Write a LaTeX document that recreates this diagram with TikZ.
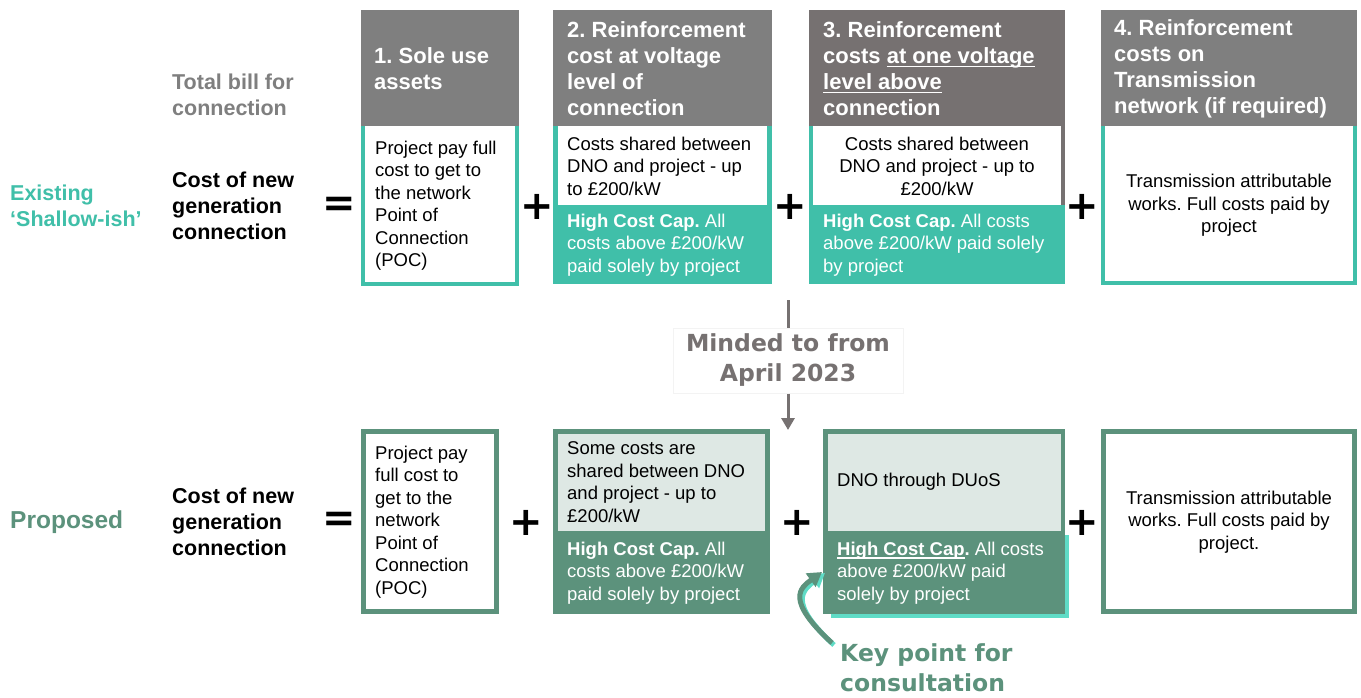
\documentclass[tikz,border=0pt]{standalone}
\usepackage{fontspec}
\setmainfont{Liberation Sans}
\newfontfamily\dvs{DejaVu Sans}
\usetikzlibrary{arrows.meta}
\frenchspacing
\definecolor{tealc}{HTML}{40BFA9}
\definecolor{grn}{HTML}{5C927C}
\definecolor{lightg}{HTML}{DEE8E4}
\definecolor{hdr}{HTML}{7F7F7F}
\definecolor{hdrB}{HTML}{767171}
\definecolor{brt}{HTML}{5FDCC6}
\definecolor{faint}{HTML}{F3F3F3}
\newcommand{\myul}[1]{\setbox0\hbox{#1}\leavevmode\rlap{\rule[-3.5pt]{\wd0}{1.6pt}}\box0}
\tikzset{
  rct/.style={rectangle, anchor=north west, inner sep=0pt, outer sep=0pt, draw=none},
  htxt/.style={font=\fontsize{22}{26}\selectfont\bfseries, text=white, align=left, inner sep=0pt, anchor=west},
  btxt/.style={font=\fontsize{18.5}{22.5}\selectfont, text=black, align=left, inner sep=0pt, anchor=west},
  wtxt/.style={btxt, text=white},
  ctxt/.style={font=\fontsize{18.5}{22.5}\selectfont, text=black, align=center, inner sep=0pt, anchor=center},
  lbl/.style={font=\fontsize{21.5}{26}\selectfont\bfseries, align=left, inner sep=0pt, anchor=west},
  op/.style={font=\fontsize{40}{40}\selectfont\dvs\bfseries, inner sep=0pt, anchor=center, text=black},
  big/.style={font=\fontsize{23.5}{30}\selectfont\dvs\bfseries, inner sep=0pt},
}
\begin{document}
\begin{tikzpicture}[x=1pt,y=-1pt]
\useasboundingbox (0,0) rectangle (1361,698);
\fill[white] (0,0) rectangle (1361,698);

% ---------- top row headers
\node[rct, fill=hdr, minimum width=158pt, minimum height=116pt] (h1) at (361,10) {};
\node[rct, fill=hdr, minimum width=219pt, minimum height=116pt] (h2) at (553,10) {};
\node[rct, fill=hdrB, minimum width=256pt, minimum height=116pt] (h3) at (809,10) {};
\node[rct, fill=hdr, minimum width=256pt, minimum height=116pt] (h4) at (1101,10) {};
\node[htxt] (h1t) at (374,69) {1. Sole use\\assets};
\node[htxt] (h2t) at (567,69) {2. Reinforcement\\cost at voltage\\level of\\connection};
\node[htxt] (h3t) at (823,69) {3. Reinforcement\\costs \myul{at one voltage}\\\myul{level above}\\connection};
\node[htxt] (h4t) at (1114,69) {4. Reinforcement\\costs on\\Transmission\\network (if required)};

% ---------- top row contents
\node[rct, fill=tealc, minimum width=158pt, minimum height=160pt] (c1o) at (361,126) {};
\node[rct, fill=white, minimum width=150pt, minimum height=156pt] (c1) at (365,126) {};
\node[btxt] (c1t) at (375,205.5) {Project pay full\\cost to get to\\the network\\Point of\\Connection\\(POC)};

\node[rct, fill=tealc, minimum width=219pt, minimum height=158pt] (c2o) at (553,126) {};
\node[rct, fill=white, minimum width=209pt, minimum height=79pt] (c2) at (558,126) {};
\node[btxt] (c2t) at (567,166) {Costs shared between\\DNO and project - up\\to £200/kW};
\node[wtxt] (c2b) at (567,245) {\textbf{High Cost Cap.} All\\costs above £200/kW\\paid solely by project};

\node[rct, fill=tealc, minimum width=256pt, minimum height=158pt] (c3o) at (809,126) {};
\node[rct, fill=hdrB, minimum width=4pt, minimum height=79pt] (c3s) at (1061,126) {};
\node[rct, fill=white, minimum width=248pt, minimum height=79pt] (c3) at (813,126) {};
\node[ctxt] (c3t) at (937,166) {Costs shared between\\DNO and project - up to\\£200/kW};
\node[wtxt] (c3b) at (823,245) {\textbf{High Cost Cap.} All costs\\above £200/kW paid solely\\by project};

\node[rct, fill=tealc, minimum width=256pt, minimum height=159pt] (c4o) at (1101,126) {};
\node[rct, fill=white, minimum width=248pt, minimum height=155pt] (c4) at (1105,126) {};
\node[ctxt] (c4t) at (1229,205.5) {Transmission attributable\\works. Full costs paid by\\project};

% ---------- labels
\node[lbl, text=hdr] (tb) at (172,95) {Total bill for\\connection};
\node[lbl, text=black] (cn1) at (172,206) {Cost of new\\generation\\connection};
\node[lbl, text=tealc] (ex) at (10,205.5) {Existing\\‘Shallow-ish’};
\node[lbl, text=black] (cn2) at (172,522) {Cost of new\\generation\\connection};
\node[lbl, text=grn, font=\fontsize{24.5}{28}\selectfont\bfseries] (pr) at (10,522) {Proposed};

% ---------- operators
\node[op] (eq1) at (339,207) {=};
\node[op] (p1) at (537,207) {+};
\node[op] (p2) at (790,207) {+};
\node[op] (p3) at (1082,207) {+};
\node[op] (eq2) at (339,522) {=};
\node[op] (p4) at (526,523) {+};
\node[op] (p5) at (797,523) {+};
\node[op] (p6) at (1082,523) {+};

% ---------- middle
\coordinate (mtop) at (788,300);
\coordinate (mbot) at (788,430);
\node[big, draw=faint, line width=1pt, fill=white, text=hdrB, align=center, minimum width=230pt, minimum height=65pt, anchor=center] (mind) at (788,360.5) {Minded to from\\April 2023};
\draw[hdrB, line width=3pt] (mtop) -- (mind.north);
\draw[hdrB, line width=3pt, -{Triangle[width=13pt,length=12pt]}] (mind.south) -- (mbot);

% ---------- bottom row
\node[rct, fill=grn, minimum width=138pt, minimum height=185pt] (b1o) at (361,429) {};
\node[rct, fill=white, minimum width=128pt, minimum height=175pt] (b1) at (366,434) {};
\node[btxt] (b1t) at (375,522) {Project pay\\full cost to\\get to the\\network\\Point of\\Connection\\(POC)};

\node[rct, fill=grn, minimum width=217pt, minimum height=185pt] (b2o) at (553,429) {};
\node[rct, fill=lightg, minimum width=207pt, minimum height=97pt] (b2) at (558,434) {};
\node[btxt] (b2t) at (567,482) {Some costs are\\shared between DNO\\and project - up to\\£200/kW};
\node[wtxt] (b2b) at (567,573) {\textbf{High Cost Cap.} All\\costs above £200/kW\\paid solely by project};

\node[rct, fill=brt, minimum width=238pt, minimum height=83pt] (b3sh) at (831,535) {};
\node[rct, fill=grn, minimum width=242pt, minimum height=185pt] (b3o) at (823,429) {};
\node[rct, fill=lightg, minimum width=233pt, minimum height=97pt] (b3) at (828,434) {};
\node[btxt] (b3t) at (837,482) {DNO through DUoS};
\node[wtxt] (b3b) at (837,573) {\textbf{\myul{High Cost Cap}.} All costs\\above £200/kW paid\\solely by project};

\node[rct, fill=grn, minimum width=256pt, minimum height=185pt] (b4o) at (1101,429) {};
\node[rct, fill=white, minimum width=246pt, minimum height=175pt] (b4) at (1106,434) {};
\node[ctxt] (b4t) at (1229,522) {Transmission attributable\\works. Full costs paid by\\project.};

% ---------- key point
\node[big, text=grn, align=left, anchor=west] (key) at (840,668) {Key point for\\consultation};
\coordinate (kstart) at (832,643);
\coordinate (ktip) at (822,572);
\coordinate (kstart2) at (834,645);
\coordinate (ktip2) at (825,573);
\draw[brt, line width=5pt, -{Triangle[width=16pt,length=14pt]}] (kstart2) .. controls (787,602) and (803,590) .. (ktip2);
\draw[grn, line width=5pt, -{Triangle[width=16pt,length=14pt]}] (kstart) .. controls (785,600) and (800,588) .. (ktip);
\end{tikzpicture}
\end{document}
